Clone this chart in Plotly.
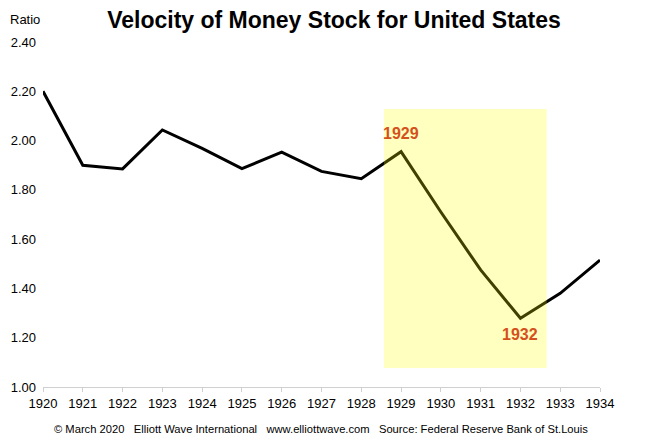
import plotly.graph_objects as go

years = list(range(1920, 1935))
velocity = [2.20, 1.90, 1.885, 2.043, 1.968, 1.886, 1.953, 1.875, 1.845,
            1.955, 1.71, 1.475, 1.279, 1.38, 1.515]
y_ticks = [1.0, 1.2, 1.4, 1.6, 1.8, 2.0, 2.2, 2.4]
highlight_x = [1928.57, 1932.66]
highlight_y = [1.077, 2.128]
labels = [("1929", 1929, 2.03), ("1932", 1932, 1.215)]

FONT = "Liberation Sans, Arial, sans-serif"
OFF = 8  # page body margin
W, H = 670 - OFF, 448 - OFF

fig = go.Figure()
fig.add_trace(go.Scatter(x=years, y=velocity, mode="lines",
                         line=dict(color="black", width=3), hoverinfo="skip"))

fig.add_shape(type="rect", xref="x", yref="y",
              x0=highlight_x[0], x1=highlight_x[1], y0=highlight_y[0], y1=highlight_y[1],
              fillcolor="rgb(255,255,0)", opacity=0.25, line=dict(width=0), layer="above")

for txt, xv, yv in labels:
    fig.add_annotation(x=xv, y=yv, xref="x", yref="y", text=f"<b>{txt}</b>",
                       showarrow=False, font=dict(family=FONT, size=16, color="#D4501C"))

fig.add_annotation(x=(8 - 43) / 557, y=(387 - 19) / 345, xref="paper", yref="paper",
                   text="Ratio", showarrow=False, xanchor="left", yanchor="middle",
                   font=dict(family=FONT, size=13, color="black"))

footer = "\u00a9 March 2020\u00a0\u00a0 Elliott Wave International\u00a0\u00a0 www.elliottwave.com\u00a0\u00a0 Source: Federal Reserve Bank of St.Louis"
fig.add_annotation(x=(321 - 43) / 557, y=(387 - 429) / 345, xref="paper", yref="paper",
                   text=footer, showarrow=False, xanchor="center", yanchor="middle",
                   font=dict(family=FONT, size=11.2, color="black"))

fig.update_layout(
    width=W, height=H,
    margin=dict(l=43 - OFF, r=W - (600 - OFF), t=42 - OFF, b=H - (387 - OFF)),
    paper_bgcolor="white", plot_bgcolor="white",
    showlegend=False,
    title=dict(text="<b>Velocity of Money Stock for United States</b>",
               x=(334 - OFF) / W, xref="container", xanchor="center",
               y=1 - (20 - OFF) / H, yref="container", yanchor="middle",
               font=dict(family=FONT, size=23, color="black")),
    xaxis=dict(range=[1920, 1934], tickmode="array", tickvals=years,
               ticktext=[str(y) for y in years], automargin=False,
               showgrid=False, zeroline=False,
               showline=True, linecolor="#D0D0D0", linewidth=1,
               ticks="outside", ticklen=4, tickcolor="#D0D0D0",
               tickfont=dict(family=FONT, size=13, color="black")),
    yaxis=dict(range=[1.0, 2.4], tickmode="array", tickvals=y_ticks,
               ticktext=[f"{v:.2f}" for v in y_ticks], automargin=False,
               showgrid=False, zeroline=False, showline=False, ticks="",
               ticklabelstandoff=6,
               tickfont=dict(family=FONT, size=13, color="black")),
)

fig.write_html("out.html")
